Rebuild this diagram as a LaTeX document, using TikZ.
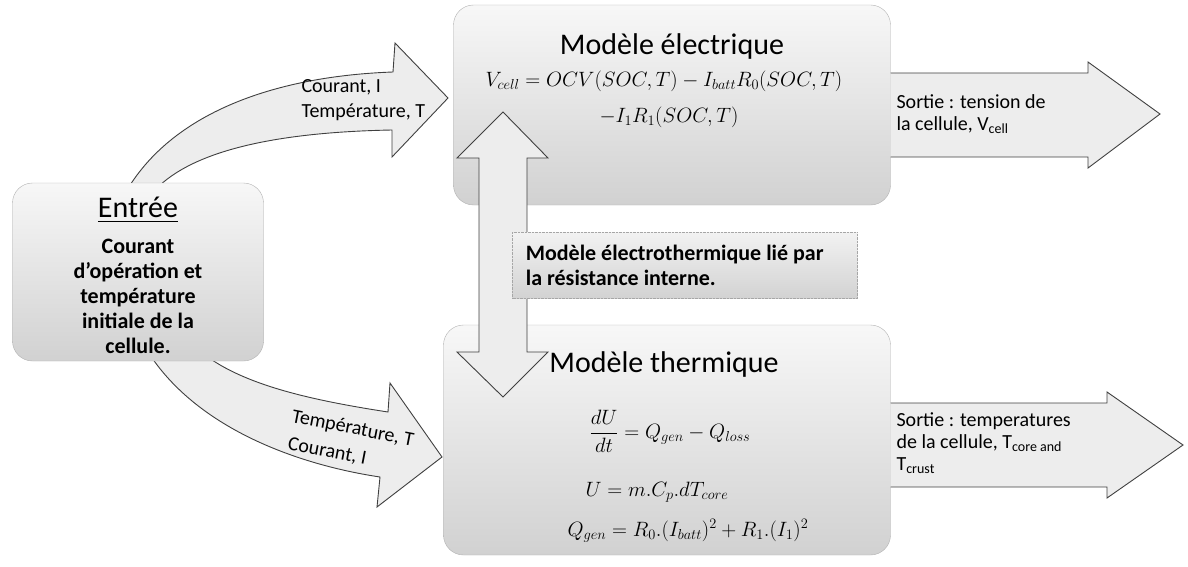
\documentclass[tikz,border=0pt]{standalone}
\usepackage{amsmath}
\usepackage{fontspec}
\setmainfont{Carlito}
\usepackage{tikz}
\usetikzlibrary{positioning,calc}

\tikzset{
  modelbox/.style={draw=gray!60, rounded corners=20pt, top color=gray!6,
    bottom color=gray!36, inner sep=0pt},
  linkbox/.style={draw=gray!70, densely dotted, top color=gray!10,
    bottom color=gray!35, inner sep=0pt},
  blockarrow/.style={draw=black!75, fill=gray!14, line width=0.9pt},
  titletext/.style={font=\fontsize{30}{36}\selectfont},
  eqtext/.style={font=\fontsize{21}{26}\selectfont},
  labeltext/.style={font=\fontsize{20}{25}\selectfont, align=left},
  boldtext/.style={font=\fontsize{22}{25}\selectfont\bfseries, align=center}
}

\begin{document}
\begin{tikzpicture}[x=1pt,y=-1pt]
  \useasboundingbox (0,0) rectangle (1188,567);

  % curved input arrows, behind the input box
  \draw[blockarrow] (127,190) .. controls (175,110) and (280,76) .. (393,72)
    -- (395,43) -- (448,98) -- (392,157) -- (392,130)
    .. controls (285,132) and (195,148) .. (155,190) -- cycle;
  \draw[blockarrow] (150,355) .. controls (200,430) and (300,465) .. (380,477)
    -- (377,507) -- (442,457) -- (390,383) -- (388,412)
    .. controls (310,400) and (245,385) .. (205,355) -- cycle;

  % boxes
  \node[modelbox, minimum width=251pt, minimum height=178pt] (entree) at (138,272) {};
  \node[modelbox, minimum width=437pt, minimum height=200pt] (elec) at (672,105) {};
  \node[modelbox, minimum width=447pt, minimum height=230pt] (therm) at (667,440) {};

  % output arrows
  \draw[blockarrow] (elec.east |- 0,73) -- (1088,73) -- (1088,62) -- (1160,114)
    -- (1088,168) -- (1088,157) -- (elec.east |- 0,157);
  \draw[blockarrow] (therm.east |- 0,403) -- (1107,403) -- (1107,392) -- (1183,445)
    -- (1107,498) -- (1107,487) -- (therm.east |- 0,487);

  % coupling arrow
  \draw[blockarrow] (503,112) -- (548,158) -- (527,158) -- (527,352) -- (548,352)
    -- (503,397) -- (457,352) -- (479,352) -- (479,158) -- (457,158) -- cycle;
  \node[linkbox, minimum width=345pt, minimum height=66pt] (link) at (685,265) {};

  % texts
  \node[titletext] (entreetitle) at (138,210) {\underline{Entrée}};
  \node[boldtext, below=9pt of entreetitle] (entreetext)
    {Courant\\d’opération et\\température\\initiale de la\\cellule.};

  \node[titletext] (electitle) at (672,47) {Modèle électrique};
  \node[eqtext] (eqa) at (664,81)
    {$V_{cell} = OCV(SOC,T) - I_{batt}R_0(SOC,T)$};
  \node[eqtext] (eqb) at (669,117) {$-I_1R_1(SOC,T)$};

  \node[titletext] (thermtitle) at (664,364) {Modèle thermique};
  \node[eqtext] (eqc) at (670,431) {$\dfrac{dU}{dt} = Q_{gen} - Q_{loss}$};
  \node[eqtext] (eqd) at (657,492) {$U = m.C_p.dT_{core}$};
  \node[eqtext, font=\fontsize{20}{24}\selectfont] (eqe) at (688,531)
    {$Q_{gen} = R_0.(I_{batt})^2 + R_1.(I_1)^2$};

  \node[boldtext, align=left, anchor=west] (linktext) at ([xshift=10pt]link.west)
    {Modèle électrothermique lié par\\la résistance interne.};

  \node[labeltext, anchor=west] (intop) at (298,100) {Courant, I\\Température, T};
  \node[labeltext, rotate=-11, anchor=west, inner sep=1pt] (inbota) at (291,417) {Température, T};
  \node[labeltext, rotate=-11, anchor=west, inner sep=1pt] (inbotb) at (287,444) {Courant, I};

  \node[labeltext, anchor=west, font=\fontsize{20}{22}\selectfont] (outtop) at (893,114)
    {Sortie : tension de\\la cellule, V\textsubscript{cell}};
  \node[labeltext, anchor=west, font=\fontsize{20}{22}\selectfont] (outbot) at (893,443)
    {Sortie : temperatures\\de la cellule, T\textsubscript{core and}\\T\textsubscript{crust}};
\end{tikzpicture}
\end{document}
